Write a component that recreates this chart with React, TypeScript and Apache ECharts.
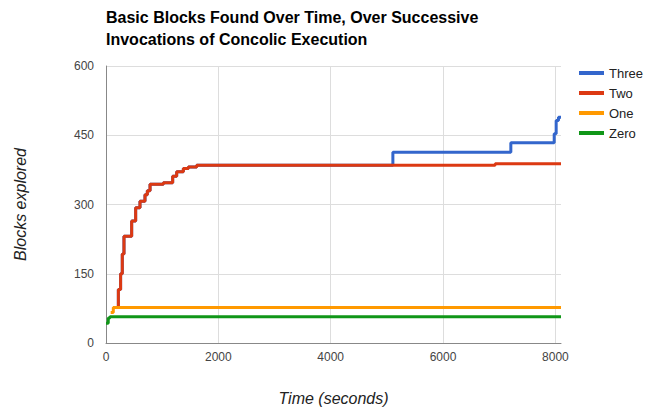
import React, { useEffect, useRef } from "react";
import * as echarts from "echarts";

const titleText = "Basic Blocks Found Over Time, Over Successive\nInvocations of Concolic Execution";
const seriesNames = ["Three", "Two", "One", "Zero"];
const seriesColors = ["#3366cc", "#dc3912", "#ff9900", "#109618"];

const threeT = [130, 220, 260, 290, 320, 457, 528, 605, 694, 736, 784, 1021, 1187, 1258, 1377, 1466, 1615, 5107, 7207, 7979, 8014, 8055, 8100];
const threeV = [77, 116, 150, 193, 231, 264, 293, 307, 321, 330, 344, 347, 361, 371, 378, 381, 385, 413, 434, 453, 482, 489, 489];

const twoT = [130, 220, 260, 290, 320, 457, 528, 605, 694, 736, 784, 1021, 1187, 1258, 1377, 1466, 1615, 6928, 8100];
const twoV = [77, 116, 150, 193, 231, 264, 293, 307, 321, 330, 344, 347, 361, 371, 378, 381, 385, 388, 388];

const oneT = [83, 130, 8100];
const oneV = [66, 77, 77];

const zeroT = [0, 40, 70, 8100];
const zeroV = [43, 54, 57, 57];

const xTicks = [0, 2000, 4000, 6000, 8000];
const yTicks = [0, 150, 300, 450, 600];

const FONT = "Arial, 'Liberation Sans', sans-serif";

function pairs(t: number[], v: number[]) {
  return t.map((x, i) => [x, v[i]]);
}

export default function App() {
  const ref = useRef<HTMLDivElement>(null);
  useEffect(() => {
    if (!ref.current) return;
    const chart = echarts.init(ref.current, undefined, { renderer: "svg" });
    const data = [pairs(threeT, threeV), pairs(twoT, twoV), pairs(oneT, oneV), pairs(zeroT, zeroV)];
    chart.setOption({
      animation: false,
      backgroundColor: "#ffffff",
      title: {
        text: titleText,
        left: 101,
        top: 1,
        textStyle: { fontFamily: FONT, fontSize: 16, fontWeight: "bold", color: "#000", lineHeight: 22 },
      },
      legend: {
        orient: "vertical",
        left: 574,
        top: 61,
        icon: "rect",
        itemWidth: 25,
        itemHeight: 4,
        itemGap: 6,
        data: seriesNames,
        textStyle: { fontFamily: FONT, fontSize: 13, color: "#222", lineHeight: 14 },
      },
      grid: { left: 106, right: 89, top: 66, bottom: 64, containLabel: false },
      xAxis: {
        type: "value",
        min: 0,
        max: 8100,
        interval: 2000,
        name: "Time (seconds)",
        nameLocation: "middle",
        nameGap: 47,
        nameTextStyle: { fontFamily: FONT, fontSize: 16, fontStyle: "italic", color: "#222" },
        axisLine: { show: true, lineStyle: { color: "#888", width: 1 } },
        axisTick: { show: false },
        axisLabel: {
          fontFamily: FONT, fontSize: 12, color: "#444", margin: 8, showMaxLabel: false,
          formatter: (v: number) => (xTicks.includes(v) ? String(v) : ""),
        },
        splitLine: { show: true, showMaxLine: false, lineStyle: { color: "#dddddd", width: 1 } },
      },
      yAxis: {
        type: "value",
        min: 0,
        max: 600,
        interval: 150,
        name: "Blocks explored",
        nameLocation: "middle",
        nameRotate: 90,
        nameGap: 78,
        nameTextStyle: { fontFamily: FONT, fontSize: 16, fontStyle: "italic", color: "#222" },
        axisLine: { show: true, lineStyle: { color: "#888", width: 1 } },
        axisTick: { show: false },
        axisLabel: {
          fontFamily: FONT, fontSize: 12, color: "#444", margin: 12,
          formatter: (v: number) => (yTicks.includes(v) ? String(v) : ""),
        },
        splitLine: { show: true, lineStyle: { color: "#dddddd", width: 1 } },
      },
      series: seriesNames.map((name, i) => ({
        name,
        type: "line",
        step: "end",
        showSymbol: false,
        symbol: "none",
        color: seriesColors[i],
        lineStyle: { color: seriesColors[i], width: 3 },
        data: data[i],
      })),
    });
    return () => chart.dispose();
  }, []);
  return <div ref={ref} style={{ position: "fixed", left: 0, top: 0, width: 650, height: 411 }} />;
}
